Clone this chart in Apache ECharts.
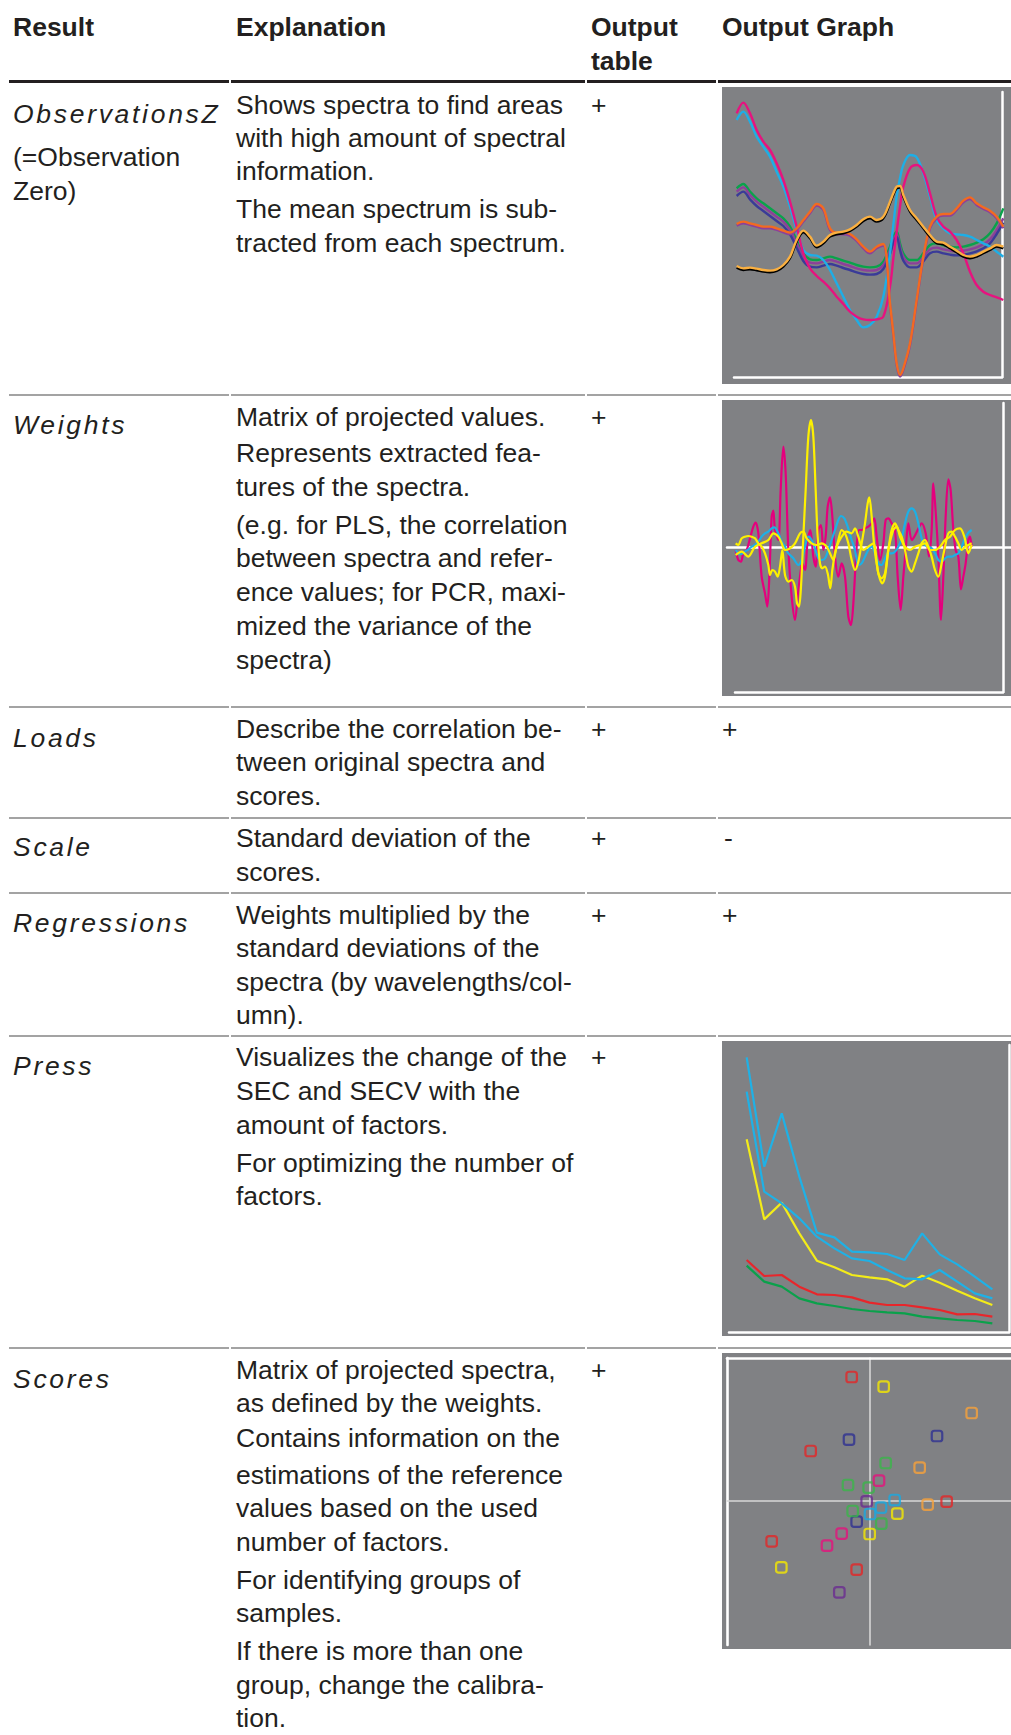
<!DOCTYPE html>
<html><head><meta charset="utf-8">
<script src="https://cdn.jsdelivr.net/npm/echarts@6/dist/echarts.min.js"></script>
<style>
html,body{margin:0;padding:0;background:#fff;}
#page{position:relative;width:1011px;height:1735px;overflow:hidden;font-family:"Liberation Sans",Arial,sans-serif;color:#231f20;}
.t{position:absolute;white-space:nowrap;font-size:26.5px;line-height:30px;}
.b{font-weight:bold;}
.i{font-style:italic;letter-spacing:2.7px;}
.rule{position:absolute;}
.chart{position:absolute;}
</style></head><body><div id="page"></div>
<script>
// ---------- DATA ----------
// ObservationsZ: mean-centred spectra on a common wavelength grid (nm)
const obsWavelength = [1100,1135,1170,1205,1240,1275,1310,1345,1380,1415,1450,1485,1520,1555,1590,1625,1660,1695,1730,1765,1800,1835,1870,1905,1922.5,1940,1957.5,1975,2010,2045,2080,2115,2150,2185,2220,2255,2290,2325,2360,2395,2430,2465,2500];
const obsMagenta = [5.00,5.32,5.00,4.50,4.15,3.90,3.50,3.00,2.35,1.60,0.80,0.35,0.12,-0.05,-0.25,-0.50,-0.72,-0.95,-1.10,-1.18,-1.20,-1.18,-1.10,-0.20,0.65,1.45,2.20,2.80,3.35,3.45,3.25,2.60,1.90,1.60,1.45,1.20,0.80,0.25,-0.15,-0.35,-0.45,-0.52,-0.60];
const obsCyan = [4.80,5.05,4.75,4.30,4.00,3.70,3.25,2.80,2.20,1.50,0.90,0.75,0.73,0.60,0.30,-0.10,-0.50,-0.90,-1.20,-1.42,-1.35,-1.10,-0.50,0.80,1.65,2.50,3.05,3.45,3.75,3.68,3.20,2.50,1.80,1.55,1.40,1.37,1.35,1.30,1.20,1.10,1.00,0.85,0.70];
const obsGreen = [2.75,2.88,2.65,2.45,2.30,2.15,2.00,1.85,1.60,1.20,0.80,0.62,0.60,0.65,0.70,0.65,0.58,0.52,0.45,0.40,0.38,0.40,0.55,1.00,1.30,1.45,1.10,0.80,0.60,0.60,0.80,1.05,1.10,1.05,1.00,0.98,1.00,1.05,1.12,1.22,1.40,1.70,2.15];
const obsPurple = [2.65,2.78,2.55,2.35,2.20,2.05,1.90,1.75,1.50,1.10,0.70,0.52,0.50,0.55,0.60,0.55,0.48,0.42,0.35,0.30,0.28,0.30,0.45,0.90,1.20,1.38,1.00,0.70,0.50,0.50,0.68,0.92,0.97,0.92,0.88,0.86,0.88,0.92,0.98,1.07,1.22,1.50,1.85];
const obsNavy = [2.52,2.65,2.42,2.22,2.07,1.92,1.77,1.62,1.37,0.97,0.57,0.40,0.38,0.43,0.48,0.43,0.36,0.30,0.23,0.18,0.16,0.18,0.33,0.78,1.10,1.30,0.90,0.58,0.38,0.38,0.56,0.80,0.85,0.80,0.76,0.74,0.76,0.80,0.86,0.95,1.10,1.38,1.72];
const obsOrange = [1.68,1.75,1.70,1.65,1.60,1.60,1.55,1.48,1.42,1.55,1.80,2.05,2.28,2.15,1.55,1.42,1.42,1.38,1.22,1.00,0.85,1.00,1.08,-0.70,-1.60,-2.50,-2.85,-2.65,-1.90,-0.60,0.70,1.60,1.90,1.98,1.98,2.15,2.38,2.48,2.30,2.18,2.08,1.90,1.60];
const obsYellow = [0.42,0.35,0.37,0.34,0.30,0.28,0.32,0.45,0.70,1.20,1.48,1.30,1.03,1.15,1.35,1.42,1.45,1.52,1.65,1.82,1.90,1.80,1.90,2.35,2.60,2.80,2.82,2.55,2.10,1.85,1.60,1.35,1.15,1.12,1.00,0.88,0.75,0.70,0.75,0.85,0.95,1.05,1.00];

// Weights: [channel, weight]
const weightsMagenta = [[62,-0.08],[70,-0.38],[78,-0.43],[85,-0.18],[95,-0.08],[105,0.27],[115,0.62],[122,0.74],[130,0.42],[140,-0.88],[150,-1.38],[157,-1.78],[163,-0.88],[170,0.92],[175,1.10],[180,0.52],[190,0.22],[197,1.72],[205,3.02],[212,2.22],[220,-0.08],[230,-1.48],[240,-2.18],[248,-1.48],[255,-0.88],[262,-0.48],[270,-0.68],[278,0.22],[286,0.52],[295,-0.28],[302,-0.58],[310,0.52],[318,0.67],[325,-0.08],[332,0.32],[338,1.22],[345,1.50],[352,0.92],[360,-0.28],[370,-0.88],[380,-0.48],[390,-0.88],[400,-2.08],[408,-2.33],[415,-1.68],[425,0.02],[432,0.52],[440,0.52],[450,0.57],[460,0.62],[470,0.72],[478,0.87],[485,0.32],[495,-0.38],[505,0.12],[512,0.82],[520,0.87],[530,0.72],[540,0.52],[548,-0.88],[557,-1.88],[565,-0.88],[572,-0.08],[580,0.72],[590,0.22],[598,0.32],[608,0.52],[620,0.72],[632,0.42],[642,-0.28],[650,0.52],[655,1.92],[663,0.92],[670,-0.28],[678,-2.18],[685,-0.88],[692,0.92],[700,2.04],[707,1.72],[715,0.52],[722,-0.08],[730,-0.28],[738,-1.26],[745,-0.88],[752,-0.48],[760,0.22],[765,0.32],[770,0.02]];
const weightsCyan = [[62,-0.08],[70,-0.18],[80,-0.20],[90,-0.13],[100,-0.06],[110,0.02],[120,0.07],[130,0.17],[140,0.32],[150,0.42],[160,0.47],[170,0.57],[178,0.60],[190,0.42],[200,0.17],[210,0.02],[220,-0.18],[235,-0.33],[250,-0.53],[260,-0.38],[270,0.02],[280,0.32],[290,0.22],[300,-0.03],[310,-0.33],[320,-0.38],[330,-0.33],[340,-0.08],[350,0.22],[360,0.52],[370,0.82],[378,0.94],[388,0.87],[398,0.62],[410,0.22],[420,-0.08],[430,-0.53],[440,-0.48],[450,-0.28],[460,-0.08],[470,0.02],[480,-0.18],[490,-0.48],[500,-0.53],[510,-0.33],[520,-0.18],[530,-0.18],[540,-0.13],[550,0.02],[560,0.27],[570,0.72],[580,1.07],[590,1.17],[600,1.07],[610,0.72],[620,0.27],[630,0.07],[640,0.02],[650,-0.03],[660,-0.18],[670,-0.38],[680,-0.43],[690,-0.33],[700,-0.28],[710,-0.28],[720,-0.23],[730,-0.18],[740,0.02],[750,0.27],[760,0.44],[770,0.52]];
const weightsYellowA = [[62,0.12],[70,0.07],[80,0.27],[90,0.32],[100,0.34],[110,0.32],[120,0.27],[130,0.12],[140,0.02],[150,-0.18],[160,-0.53],[165,-0.83],[172,-0.68],[180,-0.73],[188,-0.88],[195,-0.58],[202,-0.08],[210,-0.83],[220,-1.03],[230,-0.98],[240,-1.18],[246,-1.68],[252,-1.78],[258,-1.18],[265,0.32],[272,1.72],[280,3.32],[288,3.82],[295,3.32],[302,1.72],[308,0.32],[315,-0.48],[322,-0.63],[330,-0.58],[338,-0.78],[346,-1.23],[352,-0.68],[360,-0.18],[370,0.22],[380,0.52],[390,0.42],[400,0.12],[410,-0.38],[420,-0.68],[430,-0.43],[440,0.12],[450,0.72],[458,1.32],[463,1.50],[470,0.92],[478,0.02],[488,-0.68],[495,-0.96],[502,-1.08],[510,-0.88],[520,-0.08],[530,0.52],[540,0.72],[550,0.52],[560,0.32],[570,-0.08],[580,-0.58],[590,-0.73],[600,-0.48],[610,-0.18],[620,0.12],[630,0.22],[640,0.02],[650,-0.28],[660,-0.68],[670,-0.88],[680,-0.48],[690,0.02],[700,0.42],[710,0.47],[720,0.32],[730,0.12],[740,-0.08],[750,0.02],[760,0.07],[770,0.12]];
const weightsYellowB = [[62,-0.23],[80,-0.13],[100,-0.28],[120,0.02],[140,0.12],[160,0.22],[175,0.42],[190,0.32],[200,0.12],[210,-0.08],[225,-0.03],[240,0.12],[255,0.42],[265,0.47],[275,0.27],[290,0.12],[305,0.07],[320,0.12],[335,0.02],[345,-0.18],[355,-0.38],[365,0.02],[380,0.32],[395,0.47],[410,0.42],[420,0.57],[430,0.32],[445,-0.08],[460,0.02],[475,0.12],[490,-0.78],[500,-0.93],[510,-0.78],[520,-0.08],[535,0.52],[545,0.62],[555,0.32],[570,0.02],[585,-0.08],[600,0.02],[615,0.07],[630,0.12],[645,-0.08],[660,-0.08],[675,0.02],[690,0.22],[705,0.32],[720,0.52],[735,0.57],[748,0.32],[760,-0.18],[770,0.07]];

// Press: SEC / SECV vs number of factors
const pressFactors = [1,2,3,4,5,6,7,8,9,10,11,12,13,14,15];
const pressCyanA = [8.18,4.90,6.50,4.60,2.92,2.78,2.35,2.33,2.28,2.10,2.90,2.27,1.97,1.60,1.22];
const pressCyanB = [7.15,4.15,3.80,3.35,2.80,2.45,2.15,2.07,1.80,1.55,1.52,1.80,1.45,1.10,0.95];
const pressYellow = [5.72,3.32,3.82,2.90,2.08,1.88,1.65,1.58,1.52,1.30,1.63,1.42,1.18,0.95,0.75];
const pressRed = [2.10,1.62,1.65,1.30,1.07,1.05,0.98,0.82,0.75,0.75,0.68,0.60,0.47,0.48,0.40];
const pressGreen = [1.93,1.45,1.30,0.95,0.80,0.72,0.63,0.57,0.53,0.50,0.40,0.35,0.30,0.27,0.20];

// Scores: [t1, t2] per sample group
const scoresRed = [[-0.55,3.71],[-1.78,1.49],[2.30,-0.03],[-2.95,-1.22],[-0.40,-2.07]];
const scoresYellow = [[0.41,3.42],[0.82,-0.39],[-0.01,-1.00],[-2.66,-2.00]];
const scoresOrange = [[3.05,2.63],[1.49,0.99],[1.73,-0.12]];
const scoresNavy = [[2.01,1.94],[-0.63,1.83],[-0.40,-0.63]];
const scoresGreen = [[0.47,1.13],[-0.66,0.47],[-0.04,0.39],[-0.52,-0.31],[0.34,-0.69]];
const scoresMagenta = [[0.27,0.60],[-0.85,-0.99],[-1.29,-1.35]];
const scoresPurple = [[-0.10,-0.02],[-0.92,-2.75]];
const scoresCyan = [[0.74,0.02],[0.33,-0.21],[0.00,-0.40]];

// ---------- TABLE TEXT ----------
const page = document.getElementById('page');
const textLines = [
 [13,36,'Result','b'],[236,36,'Explanation','b'],[591,36,'Output','b'],[591,70,'table','b'],[722,36,'Output Graph','b'],
 [13,123,'ObservationsZ','i'],[13,166,'(=Observation',''],[13,200,'Zero)',''],
 [236,114,'Shows spectra to find areas'],[236,147,'with high amount of spectral'],[236,180,'information.'],[236,218.5,'The mean spectrum is sub-'],[236,252,'tracted from each spectrum.'],[591,114,'+'],
 [13,434,'Weights','i'],[236,426,'Matrix of projected values.'],[236,462.5,'Represents extracted fea-'],[236,496,'tures of the spectra.'],[236,534,'(e.g. for PLS, the correlation'],[236,567.5,'between spectra and refer-'],[236,601.5,'ence values; for PCR, maxi-'],[236,635.5,'mized the variance of the'],[236,669,'spectra)'],[591,426,'+'],
 [13,747,'Loads','i'],[236,738,'Describe the correlation be-'],[236,771.5,'tween original spectra and'],[236,805.5,'scores.'],[591,738,'+'],[722,738,'+'],
 [13,856.5,'Scale','i'],[236,847.5,'Standard deviation of the'],[236,881.5,'scores.'],[591,847.5,'+'],[724,847.5,'-'],
 [13,932.5,'Regressions','i'],[236,924,'Weights multiplied by the'],[236,957.5,'standard deviations of the'],[236,991,'spectra (by wavelengths/col-'],[236,1024.5,'umn).'],[591,924,'+'],[722,924,'+'],
 [13,1075.5,'Press','i'],[236,1066.5,'Visualizes the change of the'],[236,1100.5,'SEC and SECV with the'],[236,1134,'amount of factors.'],[236,1172,'For optimizing the number of'],[236,1205.5,'factors.'],[591,1066.5,'+'],
 [13,1388,'Scores','i'],[236,1379,'Matrix of projected spectra,'],[236,1412,'as defined by the weights.'],[236,1447.5,'Contains information on the'],[236,1484,'estimations of the reference'],[236,1517.5,'values based on the used'],[236,1551,'number of factors.'],[236,1589,'For identifying groups of'],[236,1622.5,'samples.'],[236,1660.5,'If there is more than one'],[236,1694,'group, change the calibra-'],[236,1727,'tion.'],[591,1379,'+']
];
textLines.forEach(([x,b,s,c])=>{
  const d=document.createElement('div'); d.className='t '+(c||'');
  d.style.left=x+'px'; d.style.top=(b-24.2)+'px'; d.textContent=s; page.appendChild(d);
});
const colSegs=[[9,229],[231,585],[587,716],[718,1011]];
function rule(y,h,color){ colSegs.forEach(([a,b])=>{const d=document.createElement('div');d.className='rule';d.style.left=a+'px';d.style.width=(b-a)+'px';d.style.top=y+'px';d.style.height=h+'px';d.style.background=color;page.appendChild(d);}); }
rule(80,3,'#231f20');
[394,706,817,892,1035,1347].forEach(y=>rule(y,2,'#a3a3a3'));

// ---------- CHARTS ----------
const BG='#808184';
function mk(id,l,t,w,h){const d=document.createElement('div');d.className='chart';d.id=id;d.style.left=l+'px';d.style.top=t+'px';d.style.width=w+'px';d.style.height=h+'px';page.appendChild(d);return echarts.init(d,null,{renderer:'canvas'});}
const hid=(gi,min,max)=>({type:'value',gridIndex:gi,min,max,show:false});
function frameAx(gi,pos,isX,color,width){
  return {type:'value',gridIndex:gi,position:pos,min:0,max:1,
    axisLine:{show:true,onZero:false,lineStyle:{color,width}},axisTick:{show:false},axisLabel:{show:false},splitLine:{show:false}};
}
function zip(xs,ys){return xs.map((x,i)=>[x,ys[i]]);}
function ln(data,color,width,smooth,shadow,xi,yi){
  const ls={color,width};
  if(shadow){ls.shadowColor=shadow;ls.shadowOffsetY=1.6;ls.shadowBlur=0;}
  return {type:'line',data,symbol:'none',smooth,lineStyle:ls,xAxisIndex:xi||0,yAxisIndex:yi||0,silent:true,z:3};
}

// Chart 1: ObservationsZ
const c1=mk('c1',722,87,289,297);
c1.setOption({animation:false,backgroundColor:BG,
  grid:[{left:14.67,right:7.67,top:0,bottom:0},{left:12,right:9,top:5,bottom:7}],
  xAxis:[hid(0,1100,2500),frameAx(1,'bottom',true,'#ffffff',2.5)],
  yAxis:[hid(0,-3.12,5.79),frameAx(1,'right',false,'#ffffff',2.5)],
  series:[
    ln(zip(obsWavelength,obsGreen),'#0aa24b',2.4,0.35),
    ln(zip(obsWavelength,obsPurple),'#8c4099',2.4,0.35),
    ln(zip(obsWavelength,obsNavy),'#3a3b98',2.4,0.35),
    ln(zip(obsWavelength,obsCyan),'#1eaee6',2.4,0.35),
    ln(zip(obsWavelength,obsMagenta),'#e6137f',2.4,0.35),
    ln(zip(obsWavelength,obsOrange),'#f26a21',2.4,0.35,'#8c4099'),
    ln(zip(obsWavelength,obsYellow),'#fbb040',2.4,0.35,'#000000')
  ]});

// Chart 2: Weights
const c2=mk('c2',722,400,289,296);
c2.setOption({animation:false,backgroundColor:BG,
  grid:[{left:5,right:0,top:0,bottom:0},{left:13,right:8,top:3,bottom:4}],
  xAxis:[{type:'value',gridIndex:0,min:36,max:888,axisLine:{show:true,onZero:true,lineStyle:{color:'#ffffff',width:2.5}},axisTick:{show:false},axisLabel:{show:false},splitLine:{show:false}},
         frameAx(1,'bottom',true,'#ffffff',2.5)],
  yAxis:[hid(0,-4.46,4.42),frameAx(1,'right',false,'#ffffff',2.5)],
  series:[
    ln(weightsMagenta,'#e4007d',2.2,0.3),
    ln(weightsCyan,'#1cb0e6',2.2,0.3),
    ln(weightsYellowB,'#fdf000',2.2,0.3),
    ln(weightsYellowA,'#fdf000',2.2,0.3)
  ]});

// Chart 3: Press
const c3=mk('c3',722,1041,289,295);
c3.setOption({animation:false,backgroundColor:BG,
  grid:[{left:24.67,right:18.67,top:0,bottom:0},{left:7,right:2,top:4,bottom:4}],
  xAxis:[hid(0,1,15),frameAx(1,'bottom',true,'#ffffff',2.5)],
  yAxis:[hid(0,-0.18,8.67),frameAx(1,'right',false,'#ffffff',2.5)],
  series:[
    ln(zip(pressFactors,pressGreen),'#0aa14b',2.2,false),
    ln(zip(pressFactors,pressRed),'#e8262b',2.2,false),
    ln(zip(pressFactors,pressYellow),'#f3ec19',2.2,false),
    ln(zip(pressFactors,pressCyanB),'#1fb1e6',2.2,false),
    ln(zip(pressFactors,pressCyanA),'#1fb1e6',2.2,false)
  ]});

// Chart 4: Scores
const c4=mk('c4',722,1353,289,296);
const crossAx=(min,max)=>({type:'value',gridIndex:0,min,max,axisLine:{show:true,onZero:true,onZeroAxisIndex:0,lineStyle:{color:'#d6d6d6',width:1.6}},axisTick:{show:false},axisLabel:{show:false},splitLine:{show:false}});
const edgeAx=(pos,min,max)=>({type:'value',gridIndex:0,position:pos,min,max,axisLine:{show:true,onZero:false,lineStyle:{color:'#ffffff',width:2.6}},axisTick:{show:false},axisLabel:{show:false},splitLine:{show:false}});
function sc(data,color){return {type:'scatter',data,symbol:'roundRect',symbolSize:10.5,itemStyle:{color:'rgba(0,0,0,0)',borderColor:color,borderWidth:2.2},xAxisIndex:0,yAxisIndex:0,silent:true,z:4};}
c4.setOption({animation:false,backgroundColor:BG,
  grid:[{left:5,right:0,top:5,bottom:4}],
  xAxis:[crossAx(-4.29,4.23),edgeAx('top',-4.29,4.23)],
  yAxis:[crossAx(-4.33,4.28),edgeAx('left',-4.33,4.28)],
  series:[
    sc(scoresRed,'#e42527'),sc(scoresYellow,'#f5e800'),sc(scoresOrange,'#f7a13a'),sc(scoresNavy,'#2e3192'),
    sc(scoresGreen,'#3ab54a'),sc(scoresMagenta,'#e5127d'),sc(scoresPurple,'#6a2c91'),sc(scoresCyan,'#18a9e1')
  ]});
</script></body></html>
